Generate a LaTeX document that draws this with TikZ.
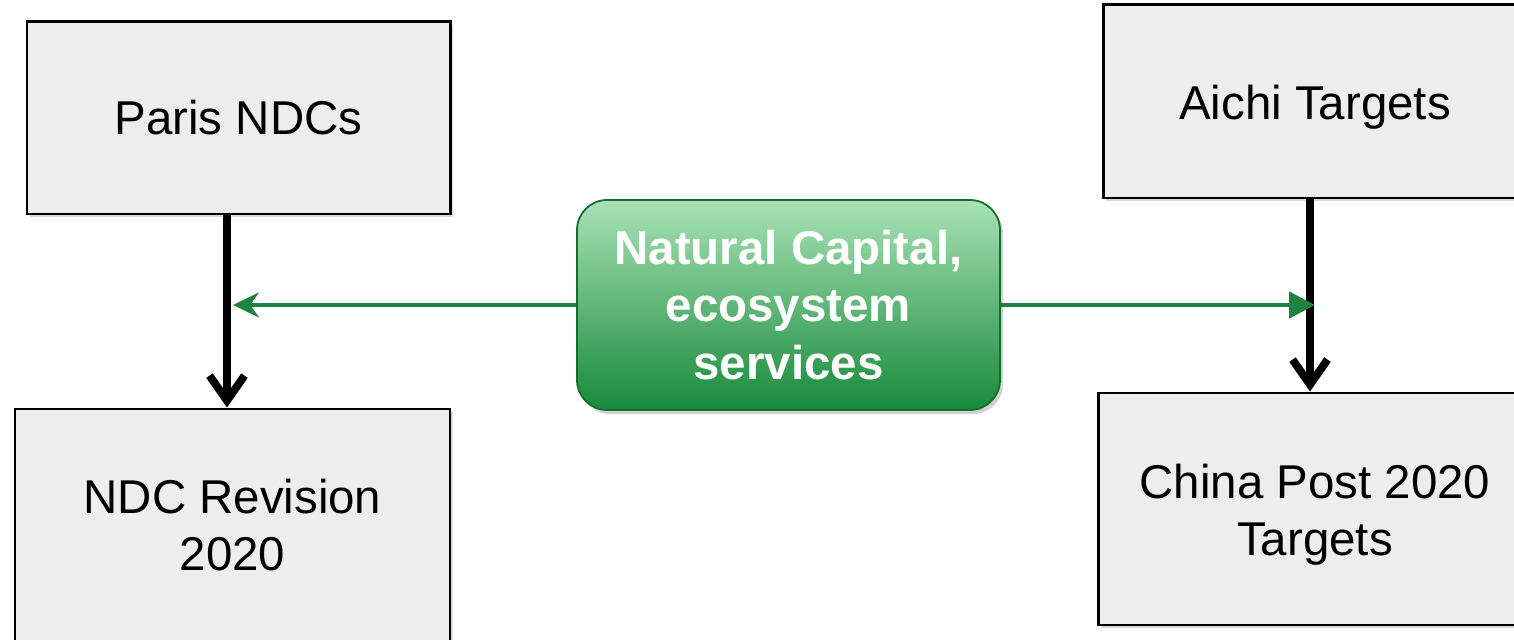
\documentclass[tikz,border=0pt]{standalone}
\usepackage{fontspec}
\setmainfont{Liberation Sans}
\usetikzlibrary{arrows.meta}
\usetikzlibrary{shadows}

\definecolor{boxgrey}{HTML}{EDEDED}
\definecolor{lightgreen}{HTML}{A9E2B6}
\definecolor{darkgreen}{HTML}{178A3A}
\definecolor{linegreen}{HTML}{1E8440}

% Pushes a text a little lower in its box.
\newcommand{\lowered}[2]{\raisebox{0pt}[\dimexpr\height+#1\relax][\depth]{#2}}

\tikzset{
  box/.style={draw=black, line width=1.7pt, fill=boxgrey, align=center,
    font=\fontsize{27}{32.5}\selectfont,
    drop shadow={shadow xshift=0.06cm, shadow yshift=-0.06cm, opacity=0.25, fill=black!60}},
  greenbox/.style={draw=darkgreen!80!black, line width=1pt, rounded corners=0.6cm,
    top color=lightgreen, bottom color=darkgreen, text=white, align=center,
    font=\bfseries\fontsize{27}{32.5}\selectfont,
    drop shadow={shadow xshift=0.06cm, shadow yshift=-0.08cm, opacity=0.3, fill=black!60}},
  flow/.style={line width=4.5pt, -{Straight Barb[length=0.5cm, width=0.7cm]}},
  link/.style={draw=linegreen, line width=2.8pt}
}

\begin{document}
\begin{tikzpicture}
    \path[use as bounding box] (0,0) rectangle (30.28,-12.8);
    % Boxes.
    \node[box, minimum width=8.46cm, minimum height=3.84cm] (paris) at (4.77,-2.36) {Paris NDCs};
    \node[box, minimum width=8.7cm, minimum height=4.64cm] (revision) at (4.65,-10.5) {NDC Revision\\2020};
    \node[box, minimum width=8.48cm, minimum height=3.86cm] (aichi) at (26.3,-2.03) {\lowered{0.22cm}{Aichi Targets}};
    \node[box, minimum width=8.68cm, minimum height=4.64cm] (china) at (26.3,-10.18)
      {\lowered{0.28cm}{\begin{tabular}{@{}c@{}}China Post 2020\\Targets\end{tabular}}};
    % Centre.
    \node[greenbox, minimum width=8.46cm, minimum height=4.2cm] (capital) at (15.77,-6.1) {Natural Capital,\\ecosystem\\services};
    % Vertical flows.
    \coordinate (leftline) at (4.54,0);
    \coordinate (rightline) at (26.2,0);
    \draw[flow] (paris.south -| leftline) -- (revision.north -| leftline);
    \draw[flow] (aichi.south -| rightline) -- (china.north -| rightline);
    % Green links.
    \coordinate (lefthit) at (4.66,-6.1);
    \coordinate (righthit) at (26.3,-6.1);
    \draw[link, -{Stealth[length=0.52cm, width=0.5cm, inset=0.18cm]}] (capital.west) -- (lefthit);
    \draw[link, -{Triangle[length=0.52cm, width=0.52cm]}] (capital.east) -- (righthit);
\end{tikzpicture}
\end{document}
